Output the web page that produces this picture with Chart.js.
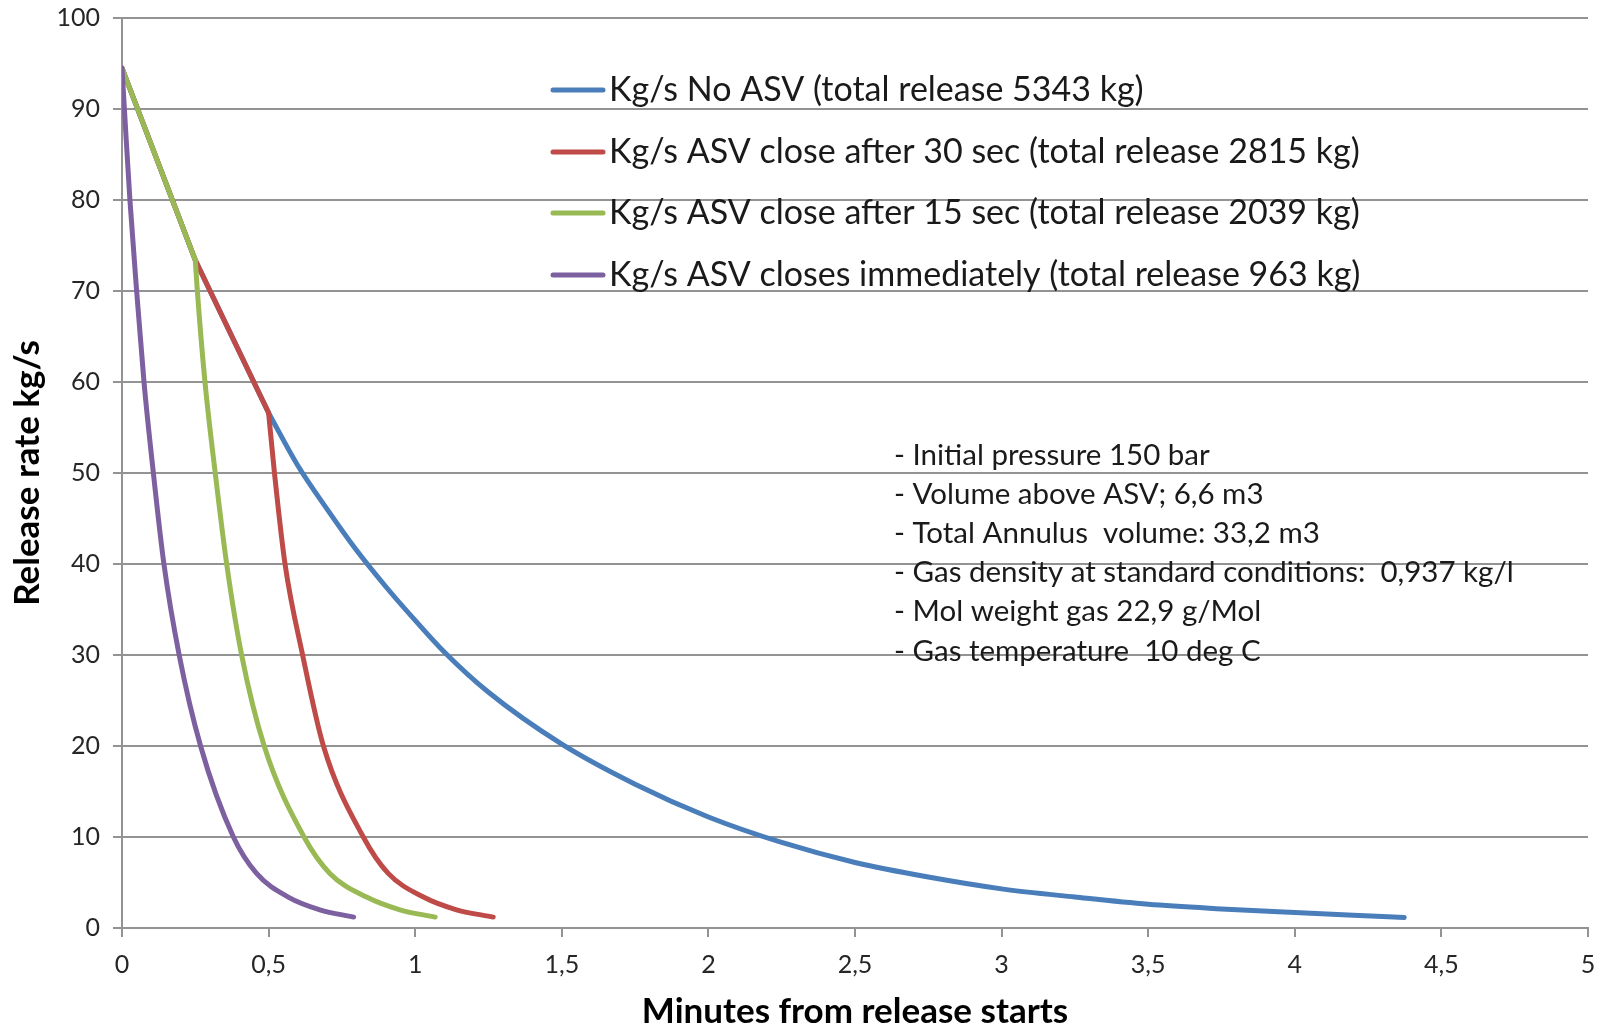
<!DOCTYPE html>
<html>
<head>
<meta charset="utf-8">
<title>Release rate</title>
<script src="https://cdn.jsdelivr.net/npm/chart.js@4/dist/chart.umd.min.js"></script>
<style>
    html, body { margin: 0; padding: 0; background: #fff; }
    #wrap { width: 1608px; height: 1025px; }
</style>
</head>
<body>
<div id="wrap"><canvas id="releaseChart" width="1608" height="1025"></canvas></div>
<script>
// 数据 - 从图中读取
const seriesNames = [
    'Kg/s No ASV (total release 5343 kg)',
    'Kg/s ASV close after 30 sec (total release 2815 kg)',
    'Kg/s ASV close after 15 sec (total release 2039 kg)',
    'Kg/s ASV closes immediately (total release 963 kg)'
];
const seriesColors = ['#4A7EBB', '#BE4B48', '#98B954', '#7D60A0'];

// ASV 关闭点的下标 (之前为直线段, 之后为衰减曲线)
const closeIndex = [2, 2, 1, 0];

const noAsvX = [0, 0.25, 0.5, 0.6, 0.7, 0.8, 0.9, 1.0, 1.1, 1.25, 1.5, 1.75, 2.0, 2.25, 2.5, 2.75, 3.0, 3.25, 3.5, 3.75, 4.0, 4.2, 4.373];
const noAsvY = [94.5, 73.4, 56.6, 50.8, 46.0, 41.5, 37.5, 33.8, 30.3, 25.9, 20.2, 15.8, 12.2, 9.4, 7.2, 5.6, 4.3, 3.4, 2.6, 2.1, 1.7, 1.4, 1.15];

const close30X = [0, 0.25, 0.5, 0.52, 0.556, 0.616, 0.687, 0.823, 0.908, 1.028, 1.141, 1.266];
const close30Y = [94.5, 73.4, 56.6, 50, 40, 30, 20, 10, 6.0, 3.4, 2.0, 1.2];

const close15X = [0, 0.25, 0.257, 0.283, 0.318, 0.357, 0.408, 0.485, 0.621, 0.709, 0.834, 0.948, 1.068];
const close15Y = [94.5, 73.4, 70, 60, 50, 40, 30, 20, 10, 6.0, 3.4, 2.0, 1.2];

const closeNowX = [0, 0.01, 0.027, 0.05, 0.075, 0.107, 0.143, 0.195, 0.268, 0.38, 0.459, 0.567, 0.675, 0.79];
const closeNowY = [94.5, 89, 80, 70, 60, 50, 40, 30, 20, 10, 6.0, 3.4, 2.0, 1.2];

const noteLines = [
    '- Initial pressure 150 bar',
    '- Volume above ASV; 6,6 m3',
    '- Total Annulus  volume: 33,2 m3',
    '- Gas density at standard conditions:  0,937 kg/l',
    '- Mol weight gas 22,9 g/Mol',
    '- Gas temperature  10 deg C'
];

const xTitle = 'Minutes from release starts';
const yTitle = 'Release rate kg/s';

const FONT = 'Lato, "Open Sans", sans-serif';
const GRID = '#939393';

/**
 * 把 x/y 数组合并成点
 */
function toPoints(xs, ys) {
    return xs.map((x, i) => ({ x: x, y: ys[i] }));
}

// 图例和注释文字
const textPlugin = {
    id: 'textPlugin',
    afterDatasetsDraw(chart) {
        const ctx = chart.ctx;
        ctx.save();
        ctx.textBaseline = 'middle';
        ctx.textAlign = 'left';

        // 图例
        const legendRows = [90, 152, 213, 275];
        ctx.font = '34px ' + FONT;
        seriesNames.forEach((name, i) => {
            ctx.strokeStyle = seriesColors[i];
            ctx.lineWidth = 5;
            ctx.lineCap = 'round';
            ctx.beginPath();
            ctx.moveTo(553, legendRows[i]);
            ctx.lineTo(603, legendRows[i]);
            ctx.stroke();
            ctx.fillStyle = '#1a1a1a';
            ctx.fillText(name, 609, legendRows[i]);
        });

        // 注释
        ctx.font = '29.5px ' + FONT;
        ctx.fillStyle = '#1a1a1a';
        noteLines.forEach((line, i) => {
            ctx.fillText(line, 894, 455 + i * 39.2);
        });
        ctx.restore();
    }
};

const ctx = document.getElementById('releaseChart');

// 每条曲线拆成直线段和平滑段
const series = [
    { x: noAsvX, y: noAsvY },
    { x: close30X, y: close30Y },
    { x: close15X, y: close15Y },
    { x: closeNowX, y: closeNowY }
];
const datasets = [];
series.forEach((s, i) => {
    const pts = toPoints(s.x, s.y);
    const k = closeIndex[i];
    const base = {
        borderColor: seriesColors[i],
        backgroundColor: seriesColors[i],
        borderWidth: 5,
        borderCapStyle: 'round',
        borderJoinStyle: 'round',
        pointRadius: 0,
        fill: false,
        order: 4 - i
    };
    if (k > 0) {
        datasets.push(Object.assign({}, base, {
            label: seriesNames[i],
            data: pts.slice(0, k + 1),
            tension: 0
        }));
    }
    datasets.push(Object.assign({}, base, {
        label: seriesNames[i],
        data: pts.slice(k),
        cubicInterpolationMode: 'monotone'
    }));
});

new Chart(ctx, {
    type: 'line',
    data: { datasets: datasets },
    plugins: [textPlugin],
    options: {
        responsive: false,
        animation: false,
        layout: { padding: { top: 18, right: 20, left: 0, bottom: 0 } },
        plugins: {
            legend: { display: false },
            tooltip: { enabled: false }
        },
        scales: {
            x: {
                type: 'linear',
                min: 0,
                max: 5,
                afterFit(scale) {
                    scale.height = 97;
                    scale.paddingLeft = 0;
                    scale.paddingRight = 0;
                },
                ticks: {
                    stepSize: 0.5,
                    padding: 13,
                    color: '#262626',
                    font: { family: FONT, size: 25 },
                    callback: v => String(v).replace('.', ',')
                },
                grid: {
                    drawOnChartArea: false,
                    drawTicks: true,
                    tickLength: 9,
                    color: GRID,
                    lineWidth: 2
                },
                border: { color: GRID, width: 2 },
                title: {
                    display: true,
                    text: xTitle,
                    color: '#000',
                    font: { family: FONT, size: 35, weight: 'bold', lineHeight: 1 },
                    padding: { top: 0, bottom: -4 }
                }
            },
            y: {
                min: 0,
                max: 100,
                afterFit(scale) {
                    scale.width = 122;
                    scale.paddingTop = 0;
                    scale.paddingBottom = 0;
                },
                ticks: {
                    stepSize: 10,
                    padding: 13,
                    color: '#262626',
                    font: { family: FONT, size: 25 }
                },
                grid: {
                    drawTicks: true,
                    tickLength: 9,
                    color: GRID,
                    lineWidth: 2
                },
                border: { color: GRID, width: 2 },
                title: {
                    display: true,
                    text: yTitle,
                    color: '#000',
                    font: { family: FONT, size: 35, weight: 'bold', lineHeight: 1 },
                    padding: { top: 10, bottom: 0 }
                }
            }
        }
    }
});
</script>
</body>
</html>
